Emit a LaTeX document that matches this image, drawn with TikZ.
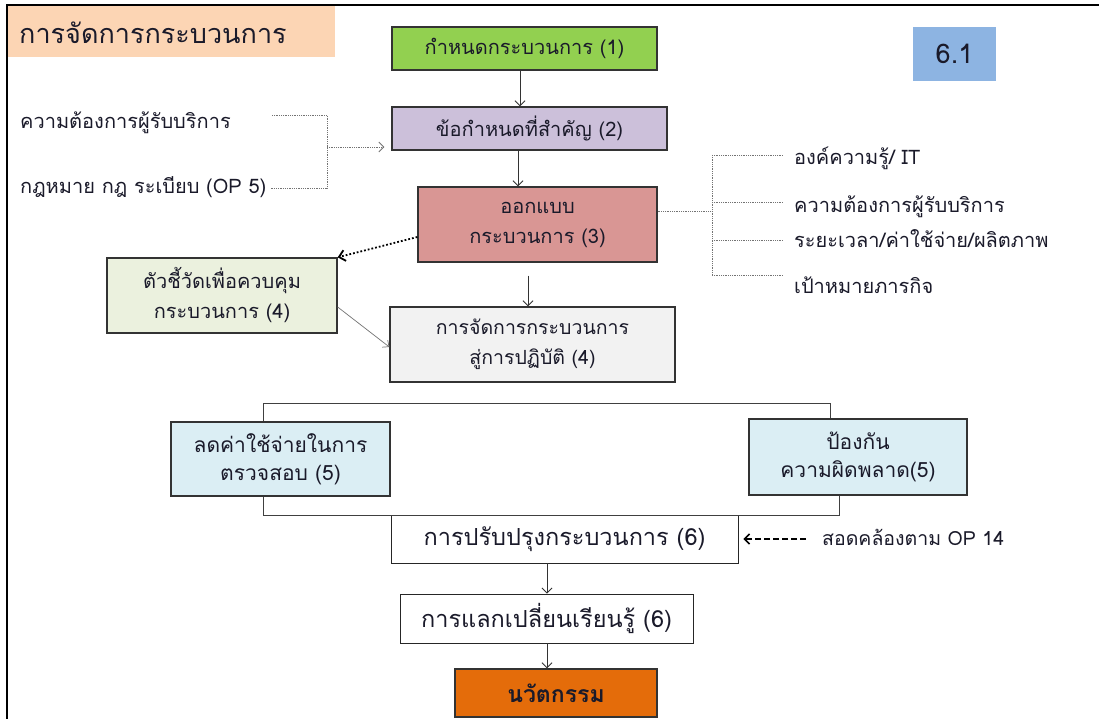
\documentclass[tikz,border=0pt]{standalone}
\usepackage{fontspec}
\setmainfont[Script=Thai]{Loma}
\usetikzlibrary{arrows.meta,shadows}
\definecolor{peach}{HTML}{FCD5B4}
\definecolor{cgreen}{HTML}{92D050}
\definecolor{cblue}{HTML}{8DB4E2}
\definecolor{cpurple}{HTML}{CCC0DA}
\definecolor{cred}{HTML}{D99694}
\definecolor{colive}{HTML}{EBF1DE}
\definecolor{cgray}{HTML}{F2F2F2}
\definecolor{clblue}{HTML}{DBEEF4}
\definecolor{corange}{HTML}{E46C0A}
\definecolor{txt}{HTML}{1A1A2A}
\tikzset{
  x=1pt, y=-1pt,
  boxs/.style={draw=black!80, line width=1.3pt, inner sep=0pt, align=center, text=txt,
    font=\fontsize{20}{30}\selectfont,
    drop shadow={shadow xshift=1.2pt, shadow yshift=-1.2pt, opacity=0.35}},
  plainbox/.style={draw=black!85, line width=0.9pt, inner sep=0pt, align=center, text=txt,
    font=\fontsize{23.5}{26}\selectfont},
  lbl/.style={anchor=west, inner sep=0pt, text=txt, font=\fontsize{20}{22}\selectfont},
  arr/.style={draw=black!80, line width=0.9pt, -{Straight Barb[length=5pt,width=10pt]}},
  dotl/.style={draw=black!55, line width=0.8pt, densely dotted},
  brk/.style={draw=black!75, line width=0.9pt},
}
\begin{document}
\begin{tikzpicture}
\useasboundingbox (0,0) rectangle (1099,719);
\fill[white] (0,0) rectangle (1099,719);
% title
\node[fill=peach, minimum width=328pt, minimum height=52pt, inner sep=0pt] (title) at (171,31) {};
\node[lbl, font=\fontsize{27}{30}\selectfont] (titletxt) at (19,33) {การจัดการกระบวนการ};
% frame
\draw[line width=2pt] (7,725) -- (7,5) -- (1105,5);
% main boxes
\node[boxs, fill=cgreen, minimum width=265pt, minimum height=43pt] (b1) at (524.5,48.5) {กำหนดกระบวนการ (1)};
\node[fill=cblue, minimum width=83pt, minimum height=54pt, inner sep=0pt, text=txt, font=\fontsize{27}{29}\selectfont] (n61) at (954.5,54) {6.1};
\node[boxs, fill=cpurple, minimum width=275pt, minimum height=43pt] (b2) at (529.5,128.5) {ข้อกำหนดที่สำคัญ (2)};
\node[boxs, fill=cred, minimum width=239pt, minimum height=75pt] (b3) at (537.5,224.5) {ออกแบบ\\กระบวนการ (3)};
\node[boxs, fill=colive, minimum width=230pt, minimum height=75pt] (bk) at (222,295.5) {ตัวชี้วัดเพื่อควบคุม\\กระบวนการ (4)};
\node[boxs, fill=cgray, minimum width=285pt, minimum height=75pt, font=\fontsize{19.5}{30}\selectfont] (b4) at (532.5,344.5) {การจัดการกระบวนการ\\สู่การปฏิบัติ (4)};
\node[boxs, fill=clblue, line width=2.2pt, minimum width=219pt, minimum height=74pt, font=\fontsize{21}{28}\selectfont] (b5l) at (280.5,459) {ลดค่าใช้จ่ายในการ\\ตรวจสอบ (5)};
\node[boxs, fill=clblue, minimum width=218pt, minimum height=76pt, font=\fontsize{21}{28}\selectfont] (b5r) at (858,457) {ป้องกัน\\ความผิดพลาด(5)};
\node[plainbox, fill=white, minimum width=347pt, minimum height=48pt] (b6) at (564.5,539) {การปรับปรุงกระบวนการ (6)};
\node[plainbox, fill=white, minimum width=293pt, minimum height=49pt] (b6b) at (546.5,618.5) {การแลกเปลี่ยนเรียนรู้ (6)};
\node[boxs, fill=corange, minimum width=202pt, minimum height=48pt, font=\fontsize{23}{26}\selectfont\bfseries] (b7) at (556,693) {นวัตกรรม};
% left inputs
\node[lbl] (l1) at (20,123) {ความต้องการผู้รับบริการ};
\node[lbl] (l2) at (20,187) {กฎหมาย กฎ ระเบียบ (OP 5)};
\coordinate (l1e) at (272,115);
\coordinate (l2e) at (270,188);
\coordinate (lj) at (327,147);
\draw[dotl] (l1e) -- (l1e -| lj) -- (l2e -| lj) -- (l2e);
\draw[dotl, -{Straight Barb[length=5pt,width=10pt]}] (lj) -- ([xshift=-7pt]b2.west |- lj);
% right factors
\node[lbl] (r1) at (794,158) {องค์ความรู้/ IT};
\node[lbl] (r2) at (794,207) {ความต้องการผู้รับบริการ};
\node[lbl] (r3) at (794,239) {ระยะเวลา/ค่าใช้จ่าย/ผลิตภาพ};
\node[lbl] (r4) at (794,285) {เป้าหมายภารกิจ};
\coordinate (rj) at (712,211);
\coordinate (re) at (783,211);
\draw[dotl] (b3.east |- rj) -- (rj);
\draw[dotl] (rj |- 0,155) -- (rj |- 0,275);
\draw[dotl] (rj |- 0,155) -- (re |- 0,155);
\draw[dotl] (rj |- 0,202) -- (re |- 0,202);
\draw[dotl] (rj |- 0,240) -- (re |- 0,240);
\draw[dotl] (rj |- 0,275) -- (re |- 0,275);
% vertical arrows
\draw[arr] (b1.south -| 520,0) -- (b2.north -| 520,0);
\draw[arr] (b2.south -| 518,0) -- (b3.north -| 518,0);
\draw[arr] ([yshift=-13pt]b3.south -| 528,0) -- (b4.north -| 528,0);
\draw[arr] (b6.south -| 547,0) -- (b6b.north -| 547,0);
\draw[arr] (b6b.south -| 547,0) -- (b7.north -| 547,0);
% dotted arrow to indicators
\draw[line width=1.8pt, dotted, -{Straight Barb[length=6pt,width=11pt]}] (b3.west |- 0,237) -- (bk.north east);
\draw[draw=black!55, line width=0.7pt, -{Straight Barb[length=5pt,width=9pt]}] (bk.east |- 0,307) -- (b4.west |- 0,347);
% brackets
\draw[brk] (b5l.north -| 263,0) -- (263,403) -- (830,403) -- (b5r.north -| 830,0);
\draw[brk] (b5l.south -| 263,0) -- (263,515) -- (839,515) -- (b5r.south -| 839,0);
% OP14
\node[lbl, font=\fontsize{19.5}{22}\selectfont] (op) at (822,537) {สอดคล้องตาม OP 14};
\draw[line width=1.6pt, dash pattern=on 6pt off 3pt, -{Straight Barb[length=5pt,width=10pt]}] ([xshift=-16pt]op.west |- b6.east) -- ([xshift=5pt]b6.east);
\end{tikzpicture}
\end{document}
